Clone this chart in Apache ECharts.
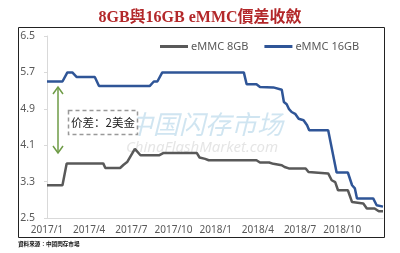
<!DOCTYPE html>
<html>
<head>
<meta charset="utf-8">
<script src="https://cdn.jsdelivr.net/npm/echarts@6/dist/echarts.min.js"></script>
<style>html,body{margin:0;padding:0;background:#fff;}#c{width:400px;height:253px;}</style>
</head>
<body>
<div id="c"></div>
<script>
// months since 2017/1
const tickLabels = ['2017/1','2017/4','2017/7','2017/10','2018/1','2018/4','2018/7','2018/10'];
const x16 = [0,1.1,1.45,1.8,2.1,3.4,3.7,7.3,7.6,7.85,8.2,14.0,14.2,14.9,15.15,16.1,16.7,16.85,17.05,17.2,17.4,17.65,17.9,18.25,18.5,18.65,20.0,20.6,21.4,21.7,21.9,22.05,23.2,23.45,23.9];
const v16 = [5.5,5.5,5.7,5.7,5.6,5.6,5.4,5.4,5.5,5.5,5.7,5.7,5.44,5.44,5.38,5.37,5.32,5.05,5.0,4.9,4.83,4.79,4.68,4.65,4.54,4.43,4.43,3.5,3.5,3.22,3.15,2.93,2.93,2.78,2.75];
const x8 = [0,1.1,1.4,4.0,4.15,5.2,5.45,5.7,6.25,6.65,8.0,8.3,10.65,10.85,11.25,11.5,14.9,15.15,15.8,16.1,16.7,16.9,17.2,18.4,18.6,20.0,20.25,20.5,20.7,21.4,21.7,22.5,22.75,23.3,23.6,23.9];
const v8 = [3.22,3.22,3.7,3.7,3.6,3.6,3.67,3.73,4.02,3.88,3.88,3.93,3.93,3.83,3.8,3.77,3.77,3.72,3.72,3.69,3.66,3.62,3.59,3.59,3.51,3.48,3.33,3.29,3.11,3.11,2.85,2.82,2.71,2.71,2.65,2.65];

const pair = (xs, vs) => xs.map((x, i) => [x, vs[i]]);
const chart = echarts.init(document.getElementById('c'), null, {renderer: 'canvas'});
const fontF = '"Noto Sans", "Noto Sans CJK SC", sans-serif';
chart.setOption({
  animation: false,
  backgroundColor: '#fff',
  title: {
    text: '8GB與16GB eMMC價差收斂',
    left: 'center', top: 5,
    textStyle: {fontFamily: '"Liberation Serif", "Noto Sans CJK TC", serif', fontSize: 16, fontWeight: 'bold', color: '#b3282a'}
  },
  legend: {
    left: 155, top: 36, itemGap: 16, itemWidth: 28, itemHeight: 3, icon: 'rect',
    textStyle: {fontFamily: fontF, fontSize: 11, color: '#595959', padding: [0,0,0,-2]},
    data: ['eMMC 8GB', 'eMMC 16GB']
  },
  grid: {left: 47, right: 17, top: 36, bottom: 35},
  xAxis: {
    type: 'value', min: 0, max: 23.9, interval: 3,
    axisLine: {show: true, lineStyle: {color: '#d9d9d9', width: 1}},
    axisTick: {show: false},
    splitLine: {show: false},
    axisLabel: {
      fontFamily: fontF, fontSize: 10, color: '#595959', margin: 7,
      showMaxLabel: false,
      formatter: v => { const i = Math.round(v / 3); return Math.abs(v - i * 3) < 1e-6 && tickLabels[i] ? tickLabels[i] : ''; }
    }
  },
  yAxis: {
    type: 'value', min: 2.5, max: 6.5, interval: 0.8,
    axisLine: {show: true, lineStyle: {color: '#d9d9d9', width: 1}},
    axisTick: {show: true, length: 3, lineStyle: {color: '#d9d9d9'}},
    splitLine: {show: false},
    axisLabel: {fontFamily: fontF, fontSize: 10.5, color: '#595959', margin: 12, formatter: v => v.toFixed(1)}
  },
  graphic: [
    {type: 'rect', z: 100, shape: {x: 18.5, y: 27.5, width: 366, height: 210}, style: {fill: 'none', stroke: '#222', lineWidth: 1}},
    {type: 'text', z: -10, x: 205, y: 124, style: {text: '中国闪存市场', fontFamily: '"Noto Sans CJK SC"', fontSize: 26, fontStyle: 'italic', fill: 'rgba(120,180,215,0.35)', align: 'center', verticalAlign: 'middle'}},
    {type: 'text', z: -10, x: 202, y: 148, style: {text: 'ChinaFlashMarket.com', fontFamily: '"Noto Sans"', fontSize: 15, fontStyle: 'italic', fill: 'rgba(180,180,180,0.35)', align: 'center', verticalAlign: 'middle'}},
    {type: 'polyline', z: 50, shape: {points: [[58, 88], [58, 152]]}, style: {stroke: '#6e9b46', lineWidth: 1.5, fill: 'none'}},
    {type: 'polyline', z: 50, shape: {points: [[53, 94], [58, 87], [63, 94]]}, style: {stroke: '#6e9b46', lineWidth: 1.5, fill: 'none'}},
    {type: 'polyline', z: 50, shape: {points: [[53, 146], [58, 153], [63, 146]]}, style: {stroke: '#6e9b46', lineWidth: 1.5, fill: 'none'}},
    {type: 'rect', z: 50, shape: {x: 68.5, y: 110.5, width: 69, height: 24}, style: {fill: '#fff', stroke: '#999', lineWidth: 1.5, lineDash: [4, 3]}},
    {type: 'text', z: 51, x: 103, y: 123, style: {text: '价差：2美金', fontFamily: '"Noto Sans CJK SC"', fontSize: 11.5, fill: '#222', align: 'center', verticalAlign: 'middle'}},
    {type: 'text', z: 50, x: 18, y: 244, style: {text: '資料來源：中國閃存市場', fontFamily: '"Noto Sans CJK TC"', fontSize: 5.6, fontWeight: 'bold', fill: '#111', verticalAlign: 'middle'}}
  ],
  series: [
    {name: 'eMMC 8GB', type: 'line', data: pair(x8, v8), showSymbol: false, symbol: 'none', lineStyle: {color: '#595959', width: 2.5}, itemStyle: {color: '#595959'}},
    {name: 'eMMC 16GB', type: 'line', data: pair(x16, v16), showSymbol: false, symbol: 'none', lineStyle: {color: '#2f5597', width: 2.5}, itemStyle: {color: '#2f5597'}}
  ]
});
</script>
</body>
</html>
